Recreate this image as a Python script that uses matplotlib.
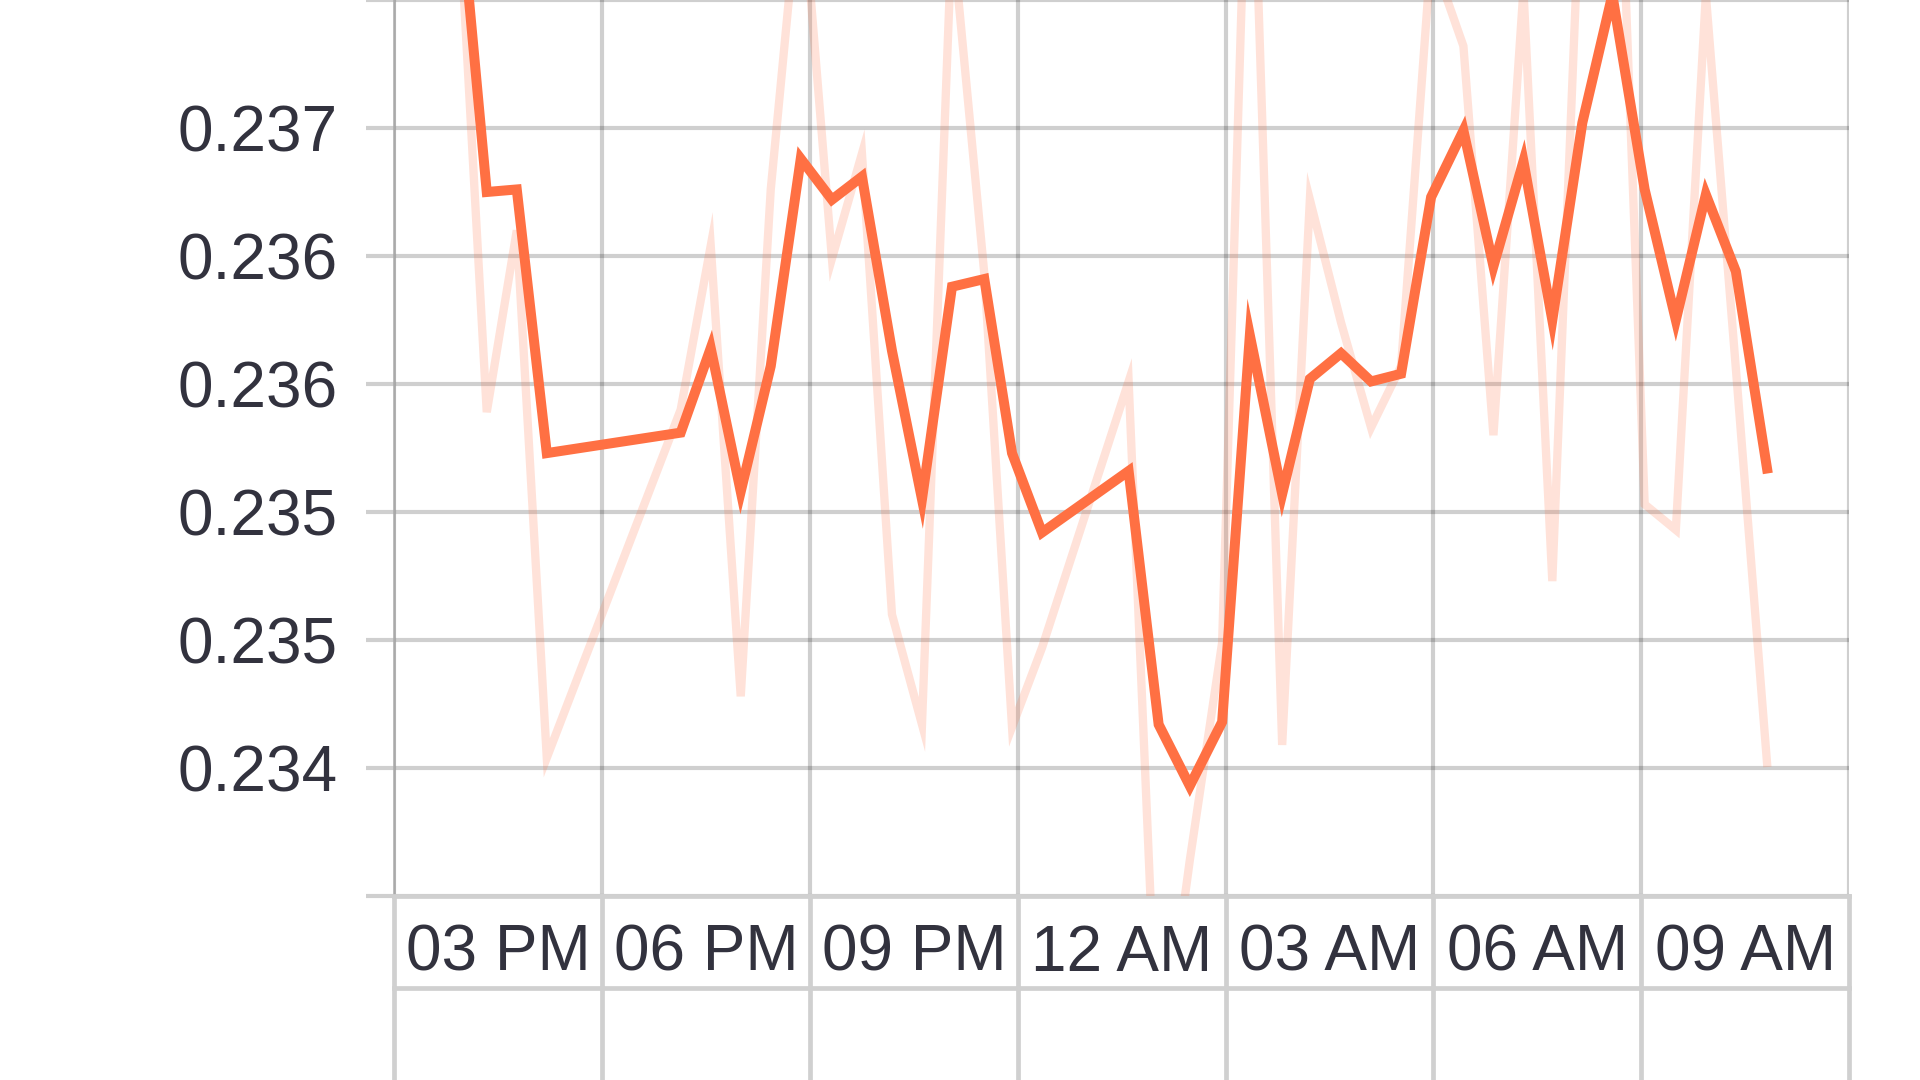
import matplotlib
matplotlib.use("Agg")
import matplotlib.pyplot as plt
import pandas as pd

plt.rcParams['font.family'] = ['Liberation Sans', 'DejaVu Sans']
plt.rcParams['font.size'] = 46

# data (time of day, raw value, smoothed value)
times = ["2021-03-01 15:54", "2021-03-01 16:20", "2021-03-01 16:46", "2021-03-01 17:12",
         "2021-03-01 19:08", "2021-03-01 19:34", "2021-03-01 20:00", "2021-03-01 20:26",
         "2021-03-01 20:52", "2021-03-01 21:19", "2021-03-01 21:45", "2021-03-01 22:11",
         "2021-03-01 22:37", "2021-03-01 23:03", "2021-03-01 23:31", "2021-03-01 23:55",
         "2021-03-02 00:21", "2021-03-02 01:36", "2021-03-02 02:02", "2021-03-02 02:29",
         "2021-03-02 02:57", "2021-03-02 03:21", "2021-03-02 03:49", "2021-03-02 04:13",
         "2021-03-02 04:40", "2021-03-02 05:06", "2021-03-02 05:32", "2021-03-02 05:58",
         "2021-03-02 06:26", "2021-03-02 06:52", "2021-03-02 07:18", "2021-03-02 07:43",
         "2021-03-02 08:09", "2021-03-02 08:35", "2021-03-02 09:03", "2021-03-02 09:30",
         "2021-03-02 09:56", "2021-03-02 10:22", "2021-03-02 10:49"]

raw = [0.23802, 0.23589, 0.23660, 0.23454, 0.23590, 0.23654, 0.23478, 0.23676,
       0.23799, 0.23649, 0.23690, 0.23510, 0.23467, 0.23777, 0.23643, 0.23466,
       0.23497, 0.23601, 0.23324, 0.23414, 0.23499, 0.23855, 0.23459, 0.23672,
       0.23624, 0.23583, 0.23607, 0.23768, 0.23732, 0.23580, 0.23754, 0.23523,
       0.23815, 0.23893, 0.23553, 0.23543, 0.23752, 0.23606, 0.23452]

smoothed = [0.23802, 0.23675, 0.23676, 0.23573, 0.23581, 0.23614, 0.23558, 0.23607,
            0.23688, 0.23672, 0.23681, 0.23613, 0.23555, 0.23638, 0.23641, 0.23573,
            0.23542, 0.23566, 0.23467, 0.23443, 0.23468, 0.23619, 0.23557, 0.23602,
            0.23612, 0.23601, 0.23604, 0.23673, 0.23699, 0.23646, 0.23687, 0.23625,
            0.23702, 0.23752, 0.23676, 0.23625, 0.23674, 0.23644, 0.23567]

y_ticks = [0.2340, 0.2345, 0.2350, 0.2355, 0.2360, 0.2365, 0.2370, 0.2375]
y_labels = ["", "0.234", "0.235", "0.235", "0.236", "0.236", "0.237", ""]

x_ticks = ["2021-03-01 15:00", "2021-03-01 18:00", "2021-03-01 21:00", "2021-03-02 00:00",
           "2021-03-02 03:00", "2021-03-02 06:00", "2021-03-02 09:00", "2021-03-02 12:00"]
x_labels = ["03 PM", "06 PM", "09 PM", "12 AM", "03 AM", "06 AM", "09 AM"]

t = pd.to_datetime(times)
xt = pd.to_datetime(x_ticks)
xmid = xt[:-1] + (xt[1:] - xt[:-1]) / 2

orange = '#FF7043'
text_col = '#32323e'
grid_rgba = (0, 0, 0, 0.19)
light_grey = '#d0d0d0'

fig = plt.figure(figsize=(19.2, 10.8), dpi=100)
ax = fig.add_axes([394.4 / 1920, 184 / 1080, (1849 - 394.4) / 1920, 896 / 1080])

ax.plot(t, raw, color=orange, alpha=0.2, linewidth=6.0,
        solid_joinstyle='miter', zorder=3)
ax.plot(t, smoothed, color=orange, linewidth=7.2,
        solid_joinstyle='miter', zorder=4)

ax.set_xlim(xt[0], xt[-1])
ax.set_ylim(y_ticks[0], y_ticks[-1])

ax.set_yticks(y_ticks)
ax.set_yticklabels(y_labels, color=text_col)
ax.tick_params(axis='y', length=20, width=3.0, color=grid_rgba, pad=21)

ax.set_xticks(xt)
ax.set_xticklabels([""] * len(xt))
ax.set_xticks(xmid, minor=True)
ax.set_xticklabels(x_labels, minor=True, color=text_col)
ax.tick_params(axis='x', which='major', length=0)
ax.tick_params(axis='x', which='minor', length=0, pad=20)

ax.set_axisbelow(True)
ax.grid(True, which='major', color='black', alpha=0.19, linewidth=3.0)

for side in ['top', 'right']:
    ax.spines[side].set_visible(False)
ax.spines['left'].set_color('#a9a9a9')
ax.spines['left'].set_linewidth(1.8)
ax.spines['bottom'].set_color(light_grey)
ax.spines['bottom'].set_linewidth(3.4)

# tier boxes below the axis
for x in xt:
    ax.axvline(x, ymin=-0.21, ymax=0, color=light_grey, linewidth=3.4, clip_on=False)
ax.plot([0, 1], [-0.1027, -0.1027], transform=ax.transAxes, color=light_grey,
        linewidth=3.4, clip_on=False)

fig.savefig("out.png", dpi=100, facecolor='white')
